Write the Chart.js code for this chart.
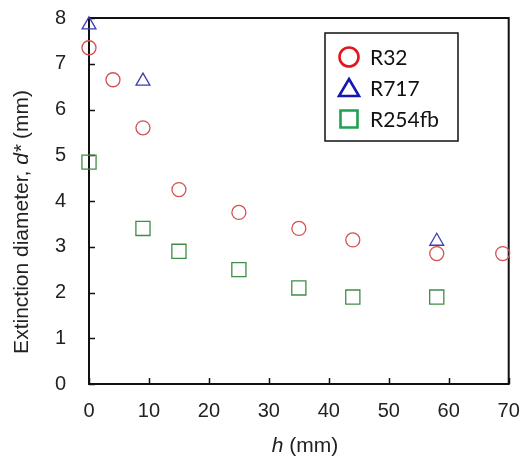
<!DOCTYPE html>
<html>
<head>
<meta charset="utf-8">
<script src="https://cdn.jsdelivr.net/npm/chart.js@4/dist/chart.umd.min.js"></script>
<style>
  html, body { margin: 0; padding: 0; background: #fff; }
  #wrap { width: 520px; height: 459px; position: relative; }
</style>
</head>
<body>
<div id="wrap"><canvas id="c" width="520" height="459"></canvas></div>
<script>
// Extinction diameter d* versus height h for three refrigerants
const seriesNames = ['R32', 'R717', 'R254fb'];

const hR32   = [0, 4, 9, 15, 25, 35, 44, 58, 69];
const dR32   = [7.35, 6.65, 5.6, 4.25, 3.75, 3.4, 3.15, 2.85, 2.85];

const hR717  = [0, 9, 58];
const dR717  = [7.85, 6.62, 3.12];

const hR254  = [0, 9, 15, 25, 35, 44, 58];
const dR254  = [4.85, 3.4, 2.9, 2.5, 2.1, 1.9, 1.9];

const xTicks = [0, 10, 20, 30, 40, 50, 60, 70];
const yTicks = [0, 1, 2, 3, 4, 5, 6, 7, 8];

const toPoints = (xs, ys) => xs.map((x, i) => ({ x: x, y: ys[i] }));

const markerColors = ['#d4514f', '#3c3cb4', '#3d8f45'];
const legendColors = ['#e3161d', '#1616b0', '#1ea052'];
const pointStyles = ['circle', 'triangle', 'rect'];
const radii = [7, 8, 10];

const data = {
  datasets: [
    { label: seriesNames[0], data: toPoints(hR32, dR32) },
    { label: seriesNames[1], data: toPoints(hR717, dR717) },
    { label: seriesNames[2], data: toPoints(hR254, dR254) }
  ].map((ds, i) => Object.assign(ds, {
    pointStyle: pointStyles[i],
    pointRadius: radii[i],
    pointHoverRadius: radii[i],
    pointBorderWidth: 1.3,
    borderColor: markerColors[i],
    backgroundColor: 'rgba(0,0,0,0)',
    showLine: false,
    clip: false
  }))
};

const fam = "'Liberation Sans', Arial, sans-serif";
const tickFont = { family: fam, size: 20 };

// Frame, inward ticks, axis titles and legend box
const decorations = {
  id: 'decorations',
  beforeDatasetsDraw(chart) {
    const ctx = chart.ctx;
    const a = chart.chartArea;
    const xs = chart.scales.x, ys = chart.scales.y;
    ctx.save();
    ctx.strokeStyle = '#111';
    ctx.lineWidth = 2;
    ctx.strokeRect(a.left, a.top, a.right - a.left, a.bottom - a.top);

    ctx.lineWidth = 1.5;
    ctx.beginPath();
    xTicks.forEach(v => {
      const px = Math.round(xs.getPixelForValue(v)) + 0.5;
      ctx.moveTo(px, a.bottom);
      ctx.lineTo(px, a.bottom - 6);
    });
    yTicks.forEach(v => {
      const py = Math.round(ys.getPixelForValue(v)) + 0.5;
      ctx.moveTo(a.left, py);
      ctx.lineTo(a.left + 6, py);
    });
    ctx.stroke();
    ctx.restore();
  },
  afterDraw(chart) {
    const ctx = chart.ctx;
    ctx.save();
    const titleSize = 21;
    ctx.fillStyle = '#222';
    ctx.textBaseline = 'middle';
    const measure = parts => parts.reduce((w, p) => {
      ctx.font = p[1] + ' ' + titleSize + 'px ' + fam;
      return w + ctx.measureText(p[0]).width;
    }, 0);
    const drawParts = (parts, startX, y) => {
      let x = startX;
      parts.forEach(p => {
        ctx.font = p[1] + ' ' + titleSize + 'px ' + fam;
        ctx.textAlign = 'left';
        ctx.fillText(p[0], x, y);
        x += ctx.measureText(p[0]).width;
      });
    };

    // x title: "h (mm)"
    const xParts = [['h', 'italic'], [' (mm)', 'normal']];
    drawParts(xParts, 305 - measure(xParts) / 2, 446);

    // y title: "Extinction diameter, d* (mm)"
    const yParts = [['Extinction diameter, ', 'normal'], ['d*', 'italic'], [' (mm)', 'normal']];
    ctx.save();
    ctx.translate(22, 222);
    ctx.rotate(-Math.PI / 2);
    drawParts(yParts, -measure(yParts) / 2, 0);
    ctx.restore();

    // legend
    const lx = 325, ly = 33, lw = 133, lh = 108;
    ctx.fillStyle = '#fff';
    ctx.fillRect(lx, ly, lw, lh);
    ctx.strokeStyle = '#111';
    ctx.lineWidth = 1.5;
    ctx.strokeRect(lx, ly, lw, lh);
    const rowsY = [57, 88, 119];
    const mx = 349;
    ctx.lineWidth = 2.6;
    rowsY.forEach((ry, i) => {
      ctx.strokeStyle = legendColors[i];
      ctx.beginPath();
      if (i === 0) {
        ctx.arc(mx, ry, 9.5, 0, Math.PI * 2);
      } else if (i === 1) {
        ctx.moveTo(mx, ry - 9);
        ctx.lineTo(mx + 10, ry + 8);
        ctx.lineTo(mx - 10, ry + 8);
        ctx.closePath();
      } else {
        ctx.rect(mx - 8.5, ry - 8.5, 17, 17);
      }
      ctx.stroke();
      ctx.fillStyle = '#111';
      ctx.font = "21px Lato, 'Open Sans', sans-serif";
      ctx.textAlign = 'left';
      ctx.textBaseline = 'middle';
      ctx.fillText(seriesNames[i], 370, ry + 1);
    });
    ctx.restore();
  }
};

const noOverhang = s => {
  s.paddingTop = 0; s.paddingBottom = 0; s.paddingLeft = 0; s.paddingRight = 0;
};

new Chart(document.getElementById('c'), {
  type: 'scatter',
  data: data,
  options: {
    responsive: false,
    animation: false,
    events: [],
    layout: { padding: { left: 0, right: 11, top: 18, bottom: 0 } },
    plugins: { legend: { display: false }, tooltip: { enabled: false } },
    scales: {
      x: {
        type: 'linear', min: 0, max: 70,
        afterBuildTicks: s => { s.ticks = xTicks.map(v => ({ value: v })); },
        afterFit: s => { s.height = 75; noOverhang(s); },
        grid: { display: false, drawTicks: false },
        border: { display: false },
        ticks: { color: '#222', font: tickFont, padding: 15, maxRotation: 0 }
      },
      y: {
        type: 'linear', min: 0, max: 8,
        afterBuildTicks: s => { s.ticks = yTicks.map(v => ({ value: v })); },
        afterFit: s => { s.width = 89; noOverhang(s); },
        grid: { display: false, drawTicks: false },
        border: { display: false },
        ticks: { color: '#222', font: tickFont, padding: 23 }
      }
    }
  },
  plugins: [decorations]
});
</script>
</body>
</html>
